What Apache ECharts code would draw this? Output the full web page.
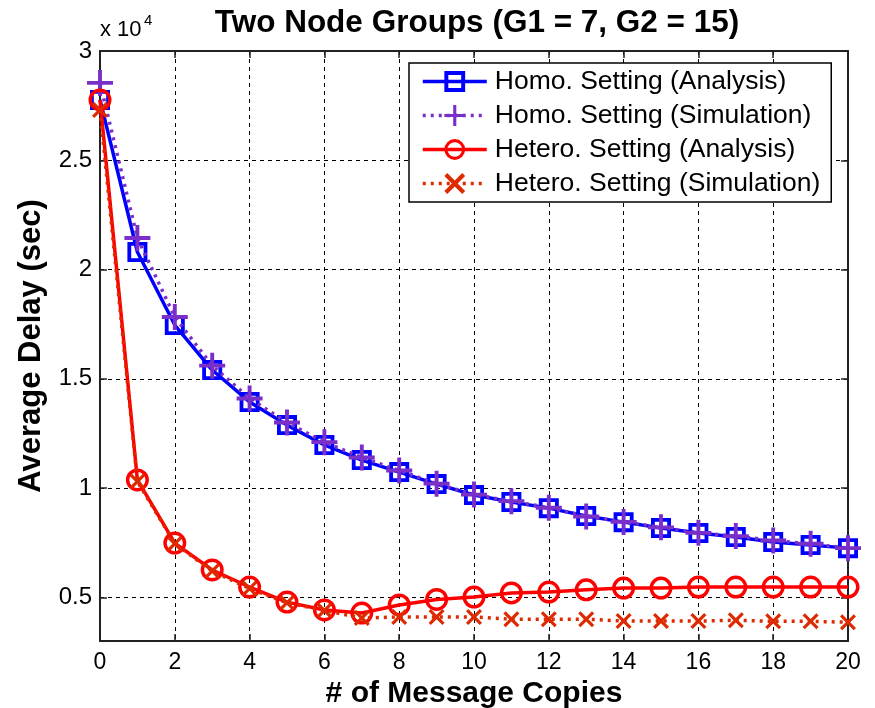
<!DOCTYPE html>
<html>
<head>
<meta charset="utf-8">
<script src="https://cdn.jsdelivr.net/npm/echarts@6/dist/echarts.min.js"></script>
<style>
html,body{margin:0;padding:0;background:#fff;}
#chart{width:875px;height:708px;}
</style>
</head>
<body>
<div id="chart"></div>
<script>
// ---- data ----
const copies = [0,1,2,3,4,5,6,7,8,9,10,11,12,13,14,15,16,17,18,19,20];
const homoAnalysis = [27760,20800,17460,15400,13940,12880,11970,11280,10730,10180,9680,9360,9080,8720,8440,8170,7940,7760,7530,7390,7250];
const homoSimulation = [28540,21440,17830,15600,14100,13000,12100,11400,10800,10200,9700,9400,9100,8700,8450,8200,7950,7800,7600,7450,7250];
const heteroAnalysis = [27760,10370,7480,6250,5470,4780,4420,4280,4650,4900,5010,5200,5240,5340,5420,5420,5470,5470,5470,5470,5470];
const heteroSimulation = [27300,10300,7450,6200,5400,4750,4400,4050,4100,4100,4100,4000,4000,4000,3910,3910,3910,3950,3900,3900,3860];
const seriesNames = ['Homo. Setting (Analysis)','Homo. Setting (Simulation)','Hetero. Setting (Analysis)','Hetero. Setting (Simulation)'];
const xTicks = [0,2,4,6,8,10,12,14,16,18,20];
const yTicks = [5000,10000,15000,20000,25000,30000];

const FONT = 'Arial, "Liberation Sans", Helvetica, sans-serif';
const squarePath = 'path://M-1,-1H1V1H-1Z M-0.62,-0.62V0.62H0.62V-0.62Z';
const circlePath = 'path://M-1,0A1,1,0,1,1,1,0A1,1,0,1,1,-1,0Z M-0.7,0A0.7,0.7,0,1,0,0.7,0A0.7,0.7,0,1,0,-0.7,0Z';
const plusPath = 'path://M-0.15,-1H0.15V-0.15H1V0.15H0.15V1H-0.15V0.15H-1V-0.15H-0.15Z';
const xPath = 'path://M-1,-0.72L-0.72,-1L0,-0.28L0.72,-1L1,-0.72L0.28,0L1,0.72L0.72,1L0,0.28L-0.72,1L-1,0.72L-0.28,0Z';

const chart = echarts.init(document.getElementById('chart'));
const pairs = a => a.map((v,i)=>[copies[i], v]);
const gridLine = {show:true, lineStyle:{color:'#000', type:[4,4], width:1}};
const axisLineStyle = {show:true, onZero:false, lineStyle:{color:'#222', width:2}};
const tickStyle = {show:true, inside:true, length:7, lineStyle:{color:'#222', width:1.5}};

chart.setOption({
  backgroundColor:'#fff',
  animation:false,
  title:{
    text:'Two Node Groups (G1 = 7, G2 = 15)',
    left:472, top:2, textAlign:'center',
    textStyle:{fontFamily:FONT, fontSize:31.5, fontWeight:'bold', color:'#000'}
  },
  graphic:[{
    type:'text', left:100, top:19,
    style:{text:'x 10', fontFamily:FONT, fontSize:22, fill:'#000'}
  },{
    type:'text', left:144, top:13,
    style:{text:'4', fontFamily:FONT, fontSize:15, fill:'#000'}
  }],
  legend:{
    orient:'vertical', left:409, top:63,
    backgroundColor:'#fff', borderColor:'#000', borderWidth:1.5,
    padding:[5,11,5,12], itemGap:7, itemWidth:64, itemHeight:26,
    textStyle:{fontFamily:FONT, fontSize:26.5, color:'#000', padding:[0,0,0,3]},
    lineStyle:{width:3.5},
    data:seriesNames
  },
  grid:{left:100, right:27, top:51, bottom:67, containLabel:false, outerBoundsMode:'none'},
  xAxis:[{
    type:'value', min:0, max:20, interval:2,
    name:'# of Message Copies', nameLocation:'middle', nameGap:37,
    nameTextStyle:{fontFamily:FONT, fontSize:30, fontWeight:'bold', color:'#000'},
    axisLine:axisLineStyle, axisTick:tickStyle,
    axisLabel:{fontFamily:FONT, fontSize:23, color:'#000', margin:10},
    splitLine:gridLine
  },{
    type:'value', min:0, max:20, interval:2, position:'top',
    axisLine:axisLineStyle, axisTick:tickStyle, axisLabel:{show:false}, splitLine:{show:false}
  }],
  yAxis:[{
    type:'value', min:3000, max:30000,
    name:'Average Delay (sec)', nameLocation:'middle', nameGap:53,
    nameTextStyle:{fontFamily:FONT, fontSize:31, fontWeight:'bold', color:'#000'},
    axisLine:axisLineStyle,
    axisTick:Object.assign({customValues:yTicks}, tickStyle),
    axisLabel:{customValues:yTicks, fontFamily:FONT, fontSize:24, color:'#000', margin:8, formatter:v=>String(v/10000)},
    splitLine:gridLine
  },{
    type:'value', min:3000, max:30000, position:'right',
    axisLine:axisLineStyle,
    axisTick:Object.assign({customValues:yTicks}, tickStyle),
    axisLabel:{show:false, customValues:yTicks}, splitLine:{show:false}
  }],
  series:[{
    name:seriesNames[0], type:'line', data:pairs(homoAnalysis), z:2,
    symbol:squarePath, symbolSize:20, showAllSymbol:true,
    lineStyle:{color:'#0000ff', width:3.5, type:'solid'},
    itemStyle:{color:'#0000ff'}
  },{
    name:seriesNames[1], type:'line', data:pairs(homoSimulation), z:3,
    symbol:plusPath, symbolSize:26, showAllSymbol:true,
    lineStyle:{color:'#7b2fc9', width:3.5, type:[3,5]},
    itemStyle:{color:'#7b2fc9'}
  },{
    name:seriesNames[2], type:'line', data:pairs(heteroAnalysis), z:4,
    symbol:circlePath, symbolSize:23, showAllSymbol:true,
    lineStyle:{color:'#ff0000', width:3.5, type:'solid'},
    itemStyle:{color:'#ff0000'}
  },{
    name:seriesNames[3], type:'line', data:pairs(heteroSimulation), z:5,
    symbol:xPath, symbolSize:16, showAllSymbol:true,
    lineStyle:{color:'#dd2a00', width:3.5, type:[3,5]},
    itemStyle:{color:'#dd2a00'}
  }]
});
</script>
</body>
</html>
